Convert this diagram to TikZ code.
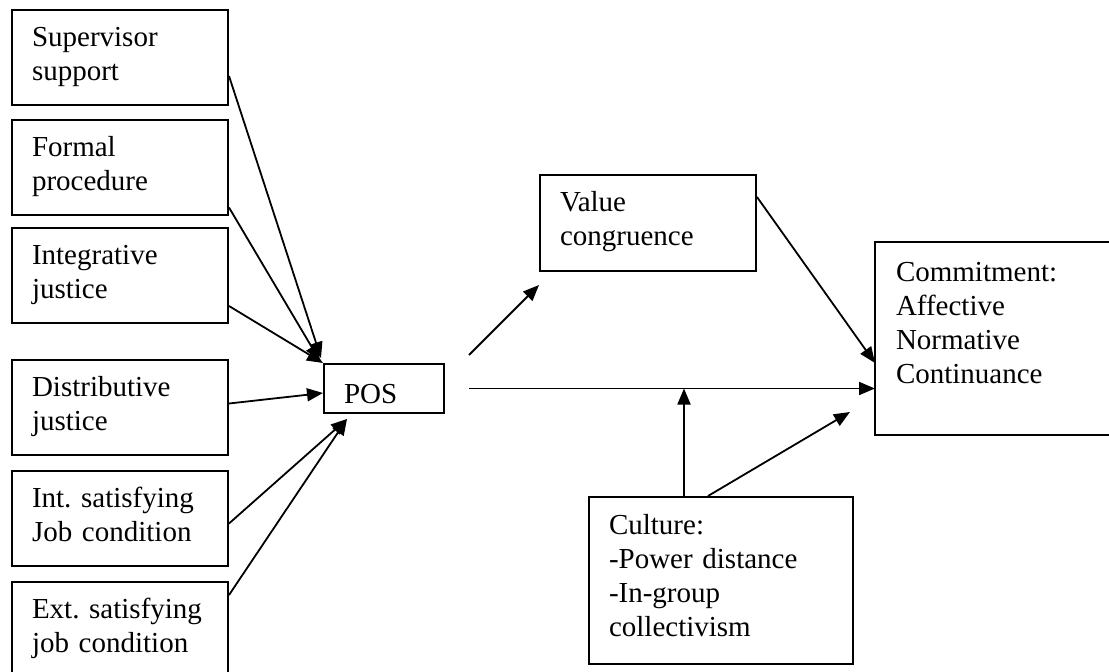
\documentclass[tikz,border=0pt]{standalone}
\usepackage{fontspec}
\setmainfont{Liberation Serif}
\usepackage{tikz}
\usetikzlibrary{arrows.meta}
\frenchspacing

\tikzset{
  block/.style={draw, line width=2pt, anchor=north west, align=left,
    inner xsep=20pt, inner ysep=0pt, text height=20pt},
  cause/.style={block, text width=176pt, minimum width=216pt,
    minimum height=95pt, text depth=43pt},
  arrow/.style={line width=1.8pt, -{Triangle[length=16pt,width=13pt]}}
}

\begin{document}
\begin{tikzpicture}[x=1pt,y=-1pt,font=\fontsize{29}{34}\selectfont]
	\useasboundingbox (0,0) rectangle (1109,672);
	% antecedents
	\node[cause] (sup) at (11,9) {Supervisor\\support};
	\node[cause] (formal) at (11,119) {Formal\\procedure};
	\node[cause] (integ) at (11,227) {Integrative\\justice};
	\node[cause] (distr) at (11,359) {Distributive\\justice};
	\node[cause] (intsat) at (11,470) {Int. satisfying\\Job condition};
	\node[cause, minimum height=120pt, text depth=68pt] (extsat) at (11,581) {Ext. satisfying\\job condition};
	% mediators and outcome
	\node[block, text width=80pt, minimum width=120pt, minimum height=49pt, text height=30pt, text depth=0pt] (pos) at (323,363) {POS};
	\node[block, text width=176pt, minimum width=216pt, minimum height=96pt, text depth=44pt] (val) at (539,174) {Value\\congruence};
	\node[block, draw=none, text width=194pt, minimum width=234pt, minimum height=191pt, text depth=135pt] (com) at (875,242) {Commitment:\\Affective\\Normative\\Continuance};
	\draw[line width=2pt] (com.north east) -- (com.north west) -- (com.south west) -- (com.south east);
	\node[block, text width=224pt, minimum width=264pt, minimum height=167pt, text depth=113pt] (cul) at (588,496) {Culture:\\-Power distance\\-In-group\\collectivism};
	% arrows into POS
	\draw[arrow] ([yshift=-18.5pt]sup.east) -- ([xshift=-2pt,yshift=5pt]pos.north west);
	\draw[arrow] ([yshift=-40pt]formal.east) -- ([xshift=-3pt,yshift=2pt]pos.north west);
	\draw[arrow] ([yshift=-30.5pt]integ.east) -- (pos.north west);
	\draw[arrow] ([yshift=4pt]distr.east) -- ([yshift=-4.5pt]pos.west);
	\draw[arrow] ([yshift=-5pt]intsat.east) -- ([xshift=24pt,yshift=-5pt]pos.south west);
	\draw[arrow] ([yshift=-14pt]extsat.north east) -- ([xshift=24pt,yshift=-5pt]pos.south west);
	% arrows out of POS
	\draw[arrow] ([xshift=24pt,yshift=8pt]pos.north east) -- ([yshift=-13pt]val.south west);
	\draw[arrow] ([xshift=24pt]pos.east) -- (pos.east -| com.west);
	\draw[arrow] ([yshift=26pt]val.east) -- ([yshift=-24.5pt]com.west);
	% moderator
	\coordinate (cv) at ([xshift=-37pt]cul.north);
	\draw[arrow] (cv) -- (cv |- pos.east);
	\draw[arrow] ([xshift=-13pt]cul.north) -- ([xshift=-25pt,yshift=23pt]com.south west);
\end{tikzpicture}
\end{document}
